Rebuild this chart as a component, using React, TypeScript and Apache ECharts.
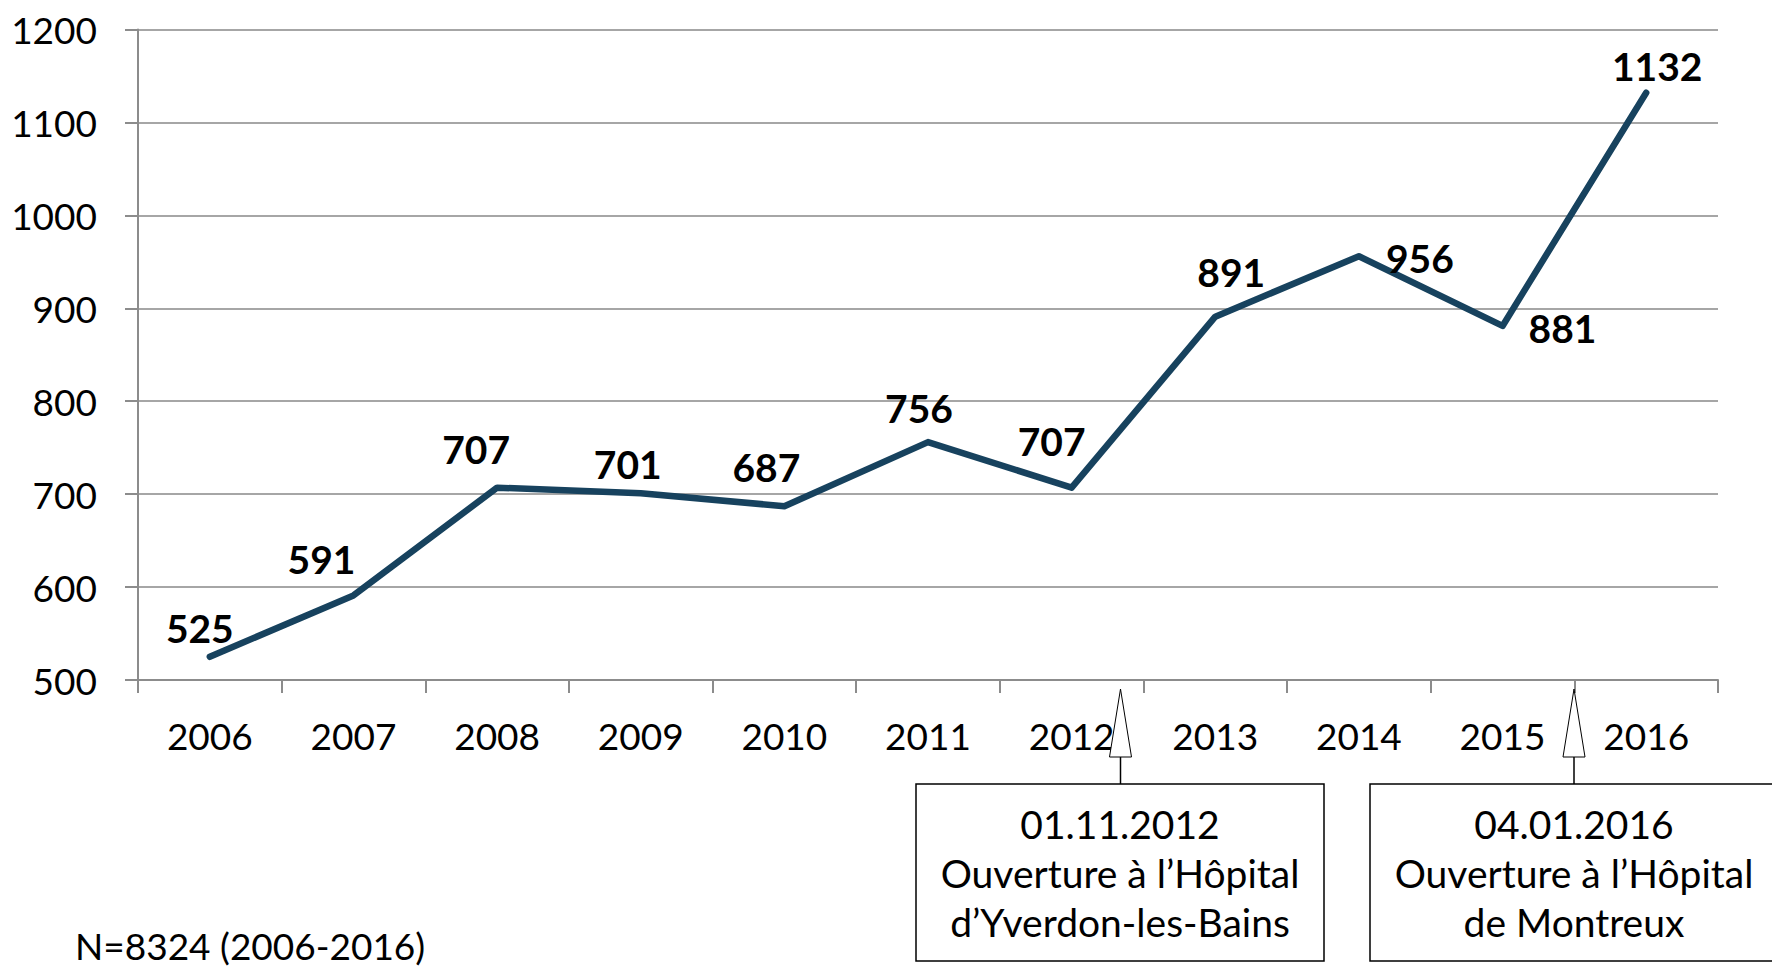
import React, { useEffect, useRef } from "react";
import * as echarts from "echarts";

const years = ["2006", "2007", "2008", "2009", "2010", "2011", "2012", "2013", "2014", "2015", "2016"];
const values = [525, 591, 707, 701, 687, 756, 707, 891, 956, 881, 1132];
const yTicks = [500, 600, 700, 800, 900, 1000, 1100, 1200];
const footnote = "N=8324 (2006-2016)";
const note1 = ["01.11.2012", "Ouverture à l’Hôpital", "d’Yverdon-les-Bains"];
const note2 = ["04.01.2016", "Ouverture à l’Hôpital", "de Montreux"];

// label offsets (pixels) relative to each point
const labelOffsets: [number, number][] = [
  [-10, -29], [-32, -36], [-21, -39], [-13, -29], [-18, -39], [-9, -34],
  [-20, -47], [16, -45], [61, 2], [60, 2], [11, -27],
];

const FONT = "Lato";
const FS = 37;
const NOTE_FS = 39;

export default function App() {
  const ref = useRef<HTMLDivElement>(null);
  useEffect(() => {
    if (!ref.current) return;
    const chart = echarts.init(ref.current, null, { renderer: "svg" });
    const textStyle = (x: number, y: number, lines: string[]) => ({
      type: "text",
      z: 100,
      style: {
        x,
        y,
        text: lines.join("\n"),
        fontFamily: FONT,
        fontSize: NOTE_FS,
        lineHeight: 49,
        fill: "#000",
        align: "center",
        verticalAlign: "middle",
      },
    });
    chart.setOption({
      animation: false,
      backgroundColor: "#fff",
      textStyle: { fontFamily: FONT },
      grid: { left: 138, right: 54, top: 29.5, bottom: 290, containLabel: false },
      xAxis: {
        type: "category",
        data: years,
        boundaryGap: true,
        axisLine: { show: true, lineStyle: { color: "#8c8c8c", width: 2 } },
        axisTick: { show: true, length: 13, interval: 0, lineStyle: { color: "#8c8c8c", width: 2 } },
        axisLabel: { color: "#000", fontSize: FS, fontFamily: FONT, margin: 37, interval: 0 },
        splitLine: { show: false },
      },
      yAxis: {
        type: "value",
        min: yTicks[0],
        max: yTicks[yTicks.length - 1],
        interval: 100,
        axisLine: { show: true, lineStyle: { color: "#8c8c8c", width: 2 } },
        axisTick: { show: true, length: 13, lineStyle: { color: "#8c8c8c", width: 2 } },
        axisLabel: { color: "#000", fontSize: FS, fontFamily: FONT, margin: 41, formatter: (v: number) => String(v) },
        splitLine: { show: true, lineStyle: { color: "#a6a6a6", width: 2 } },
      },
      series: [
        {
          type: "line",
          data: values.map((v, i) => ({
            value: v,
            label: { offset: labelOffsets[i] },
          })),
          symbol: "circle",
          symbolSize: 1,
          showSymbol: true,
          itemStyle: { color: "#17425E" },
          lineStyle: { color: "#17425E", width: 6.5, cap: "round", join: "round" },
          label: {
            show: true,
            position: "inside",
            color: "#000",
            fontWeight: "bold",
            fontSize: 39,
            fontFamily: FONT,
          },
          z: 5,
        },
      ],
      graphic: [
        // box 1
        { type: "rect", z: 90, shape: { x: 916, y: 784, width: 408, height: 177 }, style: { fill: "#fff", stroke: "#000", lineWidth: 1.5 } },
        textStyle(1120, 873, note1),
        { type: "line", z: 90, shape: { x1: 1120.5, y1: 757, x2: 1120.5, y2: 784 }, style: { stroke: "#000", lineWidth: 1.5 } },
        { type: "polygon", z: 95, shape: { points: [[1109.5, 757], [1131.5, 757], [1120.5, 689]] }, style: { fill: "#fff", stroke: "#000", lineWidth: 1 } },
        // box 2
        { type: "rect", z: 90, shape: { x: 1370, y: 784, width: 420, height: 177 }, style: { fill: "#fff", stroke: "#000", lineWidth: 1.5 } },
        textStyle(1574, 873, note2),
        { type: "line", z: 90, shape: { x1: 1574, y1: 757, x2: 1574, y2: 784 }, style: { stroke: "#000", lineWidth: 1.5 } },
        { type: "polygon", z: 95, shape: { points: [[1563, 757], [1585, 757], [1574, 689]] }, style: { fill: "#fff", stroke: "#000", lineWidth: 1 } },
        // footnote
        {
          type: "text",
          z: 100,
          style: { x: 75, y: 945, text: footnote, fontFamily: FONT, fontSize: FS, fill: "#000", align: "left", verticalAlign: "middle" },
        },
      ],
    });
    return () => chart.dispose();
  }, []);
  return <div ref={ref} style={{ position: "absolute", left: 0, top: 0, width: 1772, height: 970 }} />;
}
